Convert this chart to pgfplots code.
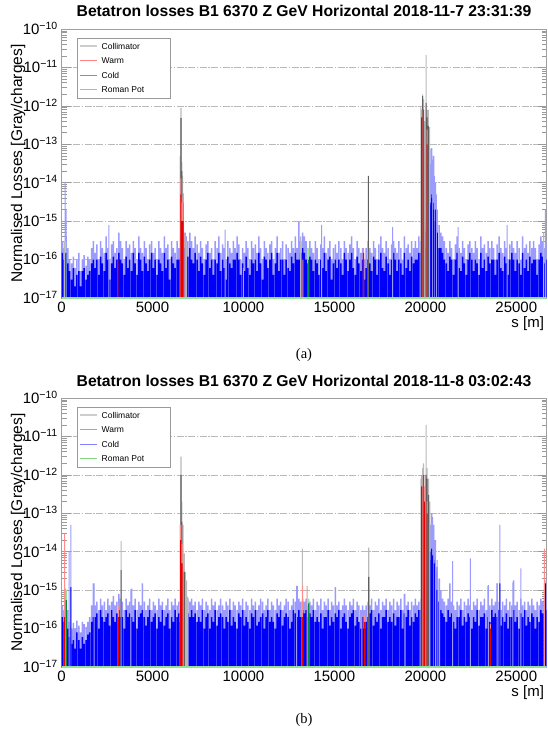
\documentclass[border=0pt]{standalone}
\usepackage{fontspec}
\setmainfont{Liberation Sans}
\newfontfamily\capfont{Liberation Serif}
\usepackage{pgfplots}
\usepackage{pgfplotstable}
\pgfplotsset{compat=1.18}

\definecolor{lb}{RGB}{155,155,255}
\definecolor{db}{RGB}{0,0,250}
\definecolor{lgr}{RGB}{185,185,185}
\definecolor{dgr}{RGB}{95,95,95}
\definecolor{lrd}{RGB}{255,140,140}
\definecolor{drd}{RGB}{235,0,0}
\definecolor{lgn}{RGB}{150,225,150}
\definecolor{dgn}{RGB}{0,140,60}
\definecolor{legc}{RGB}{205,205,205}
\definecolor{legw}{RGB}{255,130,130}
\definecolor{legb}{RGB}{130,130,255}
\definecolor{legg}{RGB}{130,215,130}

\newcommand\legbox{%
  \node[draw=gray!80, fill=white, anchor=north west, inner xsep=0pt, inner ysep=1.2pt,
        font=\fontsize{8.5}{14.4}\selectfont]
    at ([xshift=15.5pt,yshift=-9pt]rel axis cs:0,1)
    {\begin{tabular}{@{\hspace{3pt}}l@{\hspace{4.5pt}}p{68pt}@{}}
      \textcolor{legc}{\rule[2.2pt]{17pt}{1.8pt}} & Collimator\\
      \textcolor{legw}{\rule[2.7pt]{17pt}{0.8pt}} & Warm\\
      \textcolor{legb}{\rule[2.7pt]{17pt}{0.8pt}} & Cold\\
      \textcolor{legg}{\rule[2.7pt]{17pt}{0.8pt}} & Roman Pot
     \end{tabular}};}

% background BLM signal: s, panel a light/dark, panel b light/dark
\pgfplotstableread{
s al ad bl bd
50 3e-16 1.5e-16 4e-16 2e-16
150 2e-16 1e-16 3e-16 1.5e-16
250 4e-16 1.5e-16 6e-16 3e-16
350 2e-16 8e-17 3e-16 1e-16
450 1e-16 5e-17 1.5e-16 6e-17
550 8e-17 3e-17 1e-16 4e-17
650 1.2e-16 6e-17 1.4e-16 5e-17
750 6e-17 2e-17 1e-16 3e-17
850 1e-16 4e-17 1.6e-16 8e-17
950 1.5e-16 5e-17 1.2e-16 5e-17
1050 5e-17 2e-17 8e-17 3e-17
1150 1e-16 5e-17 1.5e-16 6e-17
1250 1.3e-16 6e-17 1.3e-16 4e-17
1350 7e-17 3e-17 1.1e-16 5e-17
1450 1.2e-16 4e-17 1.5e-16 7e-17
1550 1e-16 5e-17 2e-16 8e-17
1650 2e-16 8e-17 4e-16 1.5e-16
1750 3e-16 1e-16 1.5e-15 2e-16
1850 1.5e-16 6e-17 4e-16 2e-16
1950 2.5e-16 1e-16 5e-16 2.5e-16
2050 1e-16 4e-17 3e-16 1e-16
2150 3e-16 1.2e-16 6e-16 3e-16
2250 2e-16 8e-17 4e-16 2e-16
2350 1.5e-16 5e-17 5e-16 1.5e-16
2450 4e-16 1.5e-16 3e-16 2e-16
2550 2e-16 1e-16 6e-16 2.5e-16
2650 1e-16 3e-17 4e-16 1.2e-16
2750 2.5e-16 8e-17 5e-16 3e-16
2850 3e-16 1.2e-16 7e-16 2e-16
2950 1.5e-16 6e-17 4e-16 1.5e-16
3050 2e-16 1e-16 5e-16 2.5e-16
3150 5e-16 1.5e-16 8e-16 3e-16
3250 3e-16 1e-16 6e-16 2e-16
3350 2e-16 8e-17 5e-16 2e-16
3450 1e-16 4e-17 3e-16 1e-16
3550 3e-16 1.2e-16 6e-16 3e-16
3650 2e-16 6e-17 4e-16 2e-16
3750 2.5e-16 1e-16 5e-16 2.5e-16
3850 1.5e-16 5e-17 1.1e-15 2e-16
3950 3e-16 1.5e-16 4e-16 1.5e-16
4050 2e-16 8e-17 6e-16 3e-16
4150 1e-16 4e-17 3e-16 1e-16
4250 4e-16 1.5e-16 5e-16 2e-16
4350 2e-16 1e-16 4e-16 2.5e-16
4450 1.5e-16 5e-17 1.5e-15 3e-16
4550 3e-16 1.2e-16 5e-16 2e-16
4650 2e-16 8e-17 3e-16 1.2e-16
4750 1e-16 5e-17 4e-16 2e-16
4850 2.5e-16 1e-16 6e-16 3e-16
4950 3e-16 1.5e-16 3e-16 1.5e-16
5050 1.5e-16 6e-17 5e-16 2e-16
5150 2e-16 1e-16 4e-16 2.5e-16
5250 1e-16 4e-17 3e-16 1e-16
5350 3e-16 1e-16 6e-16 2e-16
5450 2e-16 8e-17 4e-16 1.5e-16
5550 1.5e-16 5e-17 5e-16 3e-16
5650 4e-16 1.5e-16 3e-16 1.2e-16
5750 2e-16 6e-17 4e-16 2e-16
5850 2.5e-16 1e-16 6e-16 2.5e-16
5950 1e-16 3e-17 3e-16 1e-16
6050 3e-16 1.2e-16 5e-16 2e-16
6150 2e-16 8e-17 4e-16 1.5e-16
6250 1.5e-16 6e-17 6e-16 3e-16
6350 3e-16 1e-16 4e-16 2e-16
6450 2e-16 1e-16 5e-16 2.5e-16
6550 4e-16 2e-16 3e-16 1.5e-16
6650 3e-16 1e-16 5e-16 2e-16
6750 5e-16 2e-16 2e-15 3e-16
6850 4e-16 1.5e-16 1e-15 3e-16
6950 3e-16 1.2e-16 6e-16 2.5e-16
7050 5e-16 2e-16 5e-16 2e-16
7150 3e-16 1e-16 6e-16 3e-16
7250 2e-16 8e-17 4e-16 2e-16
7350 4e-16 1.5e-16 5e-16 2.5e-16
7450 2.5e-16 1e-16 3e-16 1.5e-16
7550 1.5e-16 5e-17 5e-16 2e-16
7650 3e-16 1.2e-16 4e-16 1.5e-16
7750 2e-16 8e-17 6e-16 3e-16
7850 1e-16 4e-17 3e-16 1e-16
7950 2.5e-16 1e-16 5e-16 2e-16
8050 3e-16 1.5e-16 4e-16 2.5e-16
8150 1.5e-16 6e-17 3e-16 1e-16
8250 2e-16 1e-16 6e-16 2e-16
8350 1e-16 4e-17 4e-16 1.5e-16
8450 3e-16 1e-16 5e-16 3e-16
8550 2e-16 8e-17 3e-16 1.2e-16
8650 4e-16 1.5e-16 4e-16 2e-16
8750 1.5e-16 5e-17 6e-16 2.5e-16
8850 2.5e-16 1e-16 4e-16 2e-16
8950 2e-16 6e-17 3e-16 1e-16
9050 1e-16 3e-17 5e-16 2e-16
9150 3e-16 1.2e-16 4e-16 1.5e-16
9250 2e-16 8e-17 6e-16 3e-16
9350 1.5e-16 6e-17 3e-16 1.2e-16
9450 3e-16 1e-16 5e-16 2e-16
9550 2e-16 1e-16 4e-16 1.5e-16
9650 4e-16 1.5e-16 3e-16 1e-16
9750 2.5e-16 1e-16 5e-16 2.5e-16
9850 1e-16 4e-17 4e-16 2e-16
9950 2e-16 8e-17 6e-16 3e-16
10050 1.5e-16 5e-17 3e-16 1.2e-16
10150 3e-16 1.2e-16 5e-16 2e-16
10250 2e-16 6e-17 4e-16 1.5e-16
10350 1e-16 4e-17 3e-16 1e-16
10450 3e-16 1e-16 6e-16 2.5e-16
10550 2e-16 8e-17 4e-16 2e-16
10650 2.5e-16 1e-16 5e-16 3e-16
10750 1.5e-16 5e-17 3e-16 1.2e-16
10850 4e-16 1.5e-16 4e-16 1.5e-16
10950 2e-16 8e-17 6e-16 2e-16
11050 1e-16 3e-17 5e-16 2.5e-16
11150 3e-16 1.2e-16 3e-16 1e-16
11250 2e-16 1e-16 4e-16 2e-16
11350 1.5e-16 6e-17 6e-16 3e-16
11450 2.5e-16 1e-16 3e-16 1.5e-16
11550 3e-16 1.5e-16 5e-16 2e-16
11650 1e-16 4e-17 4e-16 1.5e-16
11750 2e-16 8e-17 3e-16 1e-16
11850 4e-16 1.5e-16 6e-16 2.5e-16
11950 1.5e-16 5e-17 4e-16 2e-16
12050 2e-16 1e-16 5e-16 3e-16
12150 3e-16 1e-16 3e-16 1.2e-16
12250 1e-16 4e-17 4e-16 2e-16
12350 2.5e-16 1e-16 6e-16 2.5e-16
12450 2e-16 6e-17 5e-16 2e-16
12550 1.5e-16 5e-17 3e-16 1e-16
12650 3e-16 1.2e-16 4e-16 1.5e-16
12750 2e-16 8e-17 6e-16 3e-16
12850 4e-16 1.5e-16 5e-16 2.5e-16
12950 2e-16 1e-16 1.3e-15 2e-16
13050 1e-15 1e-16 6e-16 3e-16
13150 3e-16 1.5e-16 5e-16 2e-16
13250 5e-16 2e-16 6e-16 3e-16
13350 4e-16 1.5e-16 5e-16 2.5e-16
13450 3e-16 1e-16 6e-16 3e-16
13550 2e-16 8e-17 4e-16 2e-16
13650 3e-16 1.2e-16 5e-16 2.5e-16
13750 2e-16 1e-16 4e-16 2e-16
13850 1.5e-16 5e-17 6e-16 3e-16
13950 3e-16 1e-16 3e-16 1.5e-16
14050 2e-16 8e-17 5e-16 2e-16
14150 1e-16 4e-17 4e-16 1.5e-16
14250 2.5e-16 1e-16 6e-16 2.5e-16
14350 2e-16 6e-17 3e-16 1e-16
14450 4e-16 1.5e-16 5e-16 2e-16
14550 1.5e-16 5e-17 4e-16 2e-16
14650 2e-16 1e-16 6e-16 3e-16
14750 3e-16 1.2e-16 3e-16 1.2e-16
14850 1e-16 3e-17 5e-16 2e-16
14950 2e-16 8e-17 4e-16 1.5e-16
15050 2.5e-16 1e-16 1.2e-15 2.5e-16
15150 1.5e-16 6e-17 4e-16 2e-16
15250 3e-16 1e-16 5e-16 3e-16
15350 2e-16 8e-17 3e-16 1e-16
15450 1e-16 4e-17 4e-16 2e-16
15550 3e-16 1.5e-16 6e-16 2.5e-16
15650 2e-16 1e-16 4e-16 1.5e-16
15750 1.5e-16 5e-17 3e-16 1e-16
15850 2.5e-16 1e-16 5e-16 2e-16
15950 4e-16 1.5e-16 4e-16 2.5e-16
16050 2e-16 6e-17 6e-16 3e-16
16150 1e-16 4e-17 3e-16 1.2e-16
16250 3e-16 1.2e-16 5e-16 2e-16
16350 2e-16 8e-17 4e-16 1.5e-16
16450 1.5e-16 5e-17 3e-16 1e-16
16550 2e-16 1e-16 4e-16 2e-16
16650 1e-16 3e-17 3e-16 1e-16
16750 2e-16 6e-17 4e-16 1.5e-16
16850 3e-16 1e-16 5e-16 2e-16
16950 2e-16 8e-17 4e-16 2.5e-16
17050 1.5e-16 5e-17 6e-16 3e-16
17150 3e-16 1.2e-16 3e-16 1.2e-16
17250 2e-16 1e-16 5e-16 2e-16
17350 1e-16 4e-17 4e-16 1.5e-16
17450 2.5e-16 1e-16 6e-16 2.5e-16
17550 4e-16 1.5e-16 3e-16 1e-16
17650 2e-16 6e-17 5e-16 2e-16
17750 1.5e-16 5e-17 4e-16 2e-16
17850 3e-16 1.2e-16 6e-16 3e-16
17950 2e-16 8e-17 3e-16 1.5e-16
18050 1e-16 4e-17 5e-16 2e-16
18150 2.5e-16 1e-16 4e-16 1.5e-16
18250 3e-16 1.5e-16 6e-16 2.5e-16
18350 2e-16 1e-16 3e-16 1.2e-16
18450 1.5e-16 5e-17 5e-16 2e-16
18550 3e-16 1e-16 4e-16 2e-16
18650 2e-16 8e-17 6e-16 3e-16
18750 1e-16 4e-17 3e-16 1e-16
18850 4e-16 1.5e-16 8e-16 2.5e-16
18950 2e-16 6e-17 4e-16 2e-16
19050 2.5e-16 1e-16 5e-16 3e-16
19150 1.5e-16 5e-17 3e-16 1.2e-16
19250 3e-16 1.2e-16 5e-16 2e-16
19350 2e-16 8e-17 4e-16 1.5e-16
19450 3e-16 1e-16 6e-16 2.5e-16
19550 2e-16 1e-16 4e-16 2e-16
19650 4e-16 1.5e-16 5e-16 3e-16
19750 3e-16 1.5e-16 6e-16 3e-16
19850 5e-16 2e-16 8e-16 3e-16
19950 6e-16 2e-16 1e-15 4e-16
20050 1e-15 5e-16 2e-15 6e-16
20150 5e-15 1e-15 1e-14 2e-15
20250 3e-14 3e-15 5e-14 5e-15
20350 8e-14 5e-15 1e-13 1e-14
20450 5e-14 3e-15 5e-14 6e-15
20550 1e-14 2e-15 2e-14 3e-15
20650 2e-15 5e-16 4e-15 1e-15
20750 8e-16 2e-16 2e-15 5e-16
20850 5e-16 2e-16 1e-15 3e-16
20950 4e-16 1.5e-16 6e-16 2.5e-16
21050 3e-16 1e-16 5e-16 2e-16
21150 2e-16 8e-17 4e-16 1.5e-16
21250 1.5e-16 5e-17 6e-16 3e-16
21350 3e-16 1.2e-16 1.5e-15 2e-16
21450 2e-16 1e-16 5e-16 2.5e-16
21550 1e-16 4e-17 4e-16 1.5e-16
21650 2.5e-16 1e-16 3e-16 1e-16
21750 4e-16 1.5e-16 5e-16 2e-16
21850 2e-16 6e-17 4e-16 2e-16
21950 1.5e-16 5e-17 6e-16 3e-16
22050 3e-16 1.2e-16 3e-16 1.2e-16
22150 2e-16 8e-17 5e-16 2e-16
22250 1e-16 4e-17 4e-16 1.5e-16
22350 2.5e-16 1e-16 6e-16 2.5e-16
22450 3e-16 1.5e-16 4e-16 2e-16
22550 2e-16 1e-16 3e-16 1e-16
22650 1.5e-16 5e-17 5e-16 2e-16
22750 3e-16 1e-16 4e-16 1.5e-16
22850 2e-16 8e-17 6e-16 3e-16
22950 1e-16 4e-17 3e-16 1.2e-16
23050 4e-16 1.5e-16 5e-16 2e-16
23150 2e-16 6e-17 4e-16 2e-16
23250 2.5e-16 1e-16 6e-16 2.5e-16
23350 1.5e-16 5e-17 3e-16 1e-16
23450 3e-16 1.2e-16 1.3e-15 2e-16
23550 2e-16 8e-17 4e-16 1.5e-16
23650 3e-16 1e-16 6e-16 3e-16
23750 2e-16 1e-16 4e-16 2e-16
23850 1e-16 4e-17 5e-16 2.5e-16
23950 2.5e-16 1e-16 1.5e-15 2e-16
24050 4e-16 1.5e-16 5e-16 3e-16
24150 2e-16 6e-17 3e-16 1.2e-16
24250 1.5e-16 5e-17 5e-16 2e-16
24350 3e-16 1.2e-16 4e-16 1.5e-16
24450 2e-16 8e-17 6e-16 2.5e-16
24550 1e-16 4e-17 3e-16 1e-16
24650 2.5e-16 1e-16 5e-16 2e-16
24750 3e-16 1.5e-16 4e-16 2e-16
24850 2e-16 1e-16 1.8e-15 3e-16
24950 1.5e-16 5e-17 4e-16 1.5e-16
25050 3e-16 1e-16 5e-16 2e-16
25150 2e-16 8e-17 3e-16 1e-16
25250 1e-16 4e-17 6e-16 2.5e-16
25350 4e-16 1.5e-16 4e-16 2e-16
25450 2e-16 6e-17 5e-16 3e-16
25550 2.5e-16 1e-16 3e-16 1.2e-16
25650 1.5e-16 5e-17 5e-16 2e-16
25750 3e-16 1.2e-16 4e-16 1.5e-16
25850 2e-16 8e-17 6e-16 2.5e-16
25950 3e-16 1e-16 4e-16 2e-16
26050 2e-16 1e-16 3e-16 1e-16
26150 1e-16 4e-17 5e-16 2e-16
26250 2.5e-16 1e-16 4e-16 1.5e-16
26350 4e-16 1.5e-16 6e-16 3e-16
26450 3e-16 1.2e-16 5e-16 2.5e-16
26550 2e-16 8e-17 1.5e-15 6e-16
26650 3e-16 1e-16 8e-16 3e-16
}\bg

\begin{document}
\begin{tikzpicture}
\useasboundingbox (0,0) rectangle (547pt,733pt);

% ---------------- panel (a) ----------------
\begin{axis}[
    at={(61.5pt,435pt)}, anchor=south west,
    scale only axis, width=485pt, height=269pt,
    xmin=0, xmax=26659, ymode=log, ymin=1e-17, ymax=1e-10,
    log origin y=infty,
    axis line style={gray!75},
    scaled x ticks=false,
    xtick={0,5000,10000,15000,20000,25000},
    xticklabels={0,5000,10000,15000,20000,25000},
    xtick style={draw=none}, xminorticks=false,
    ytick={1e-17,1e-16,1e-15,1e-14,1e-13,1e-12,1e-11,1e-10},
    yticklabels={10\textsuperscript{−17},10\textsuperscript{−16},10\textsuperscript{−15},10\textsuperscript{−14},10\textsuperscript{−13},10\textsuperscript{−12},10\textsuperscript{−11},10\textsuperscript{−10}},
    tick label style={font=\fontsize{15}{18}\selectfont},
    yticklabel style={anchor=base east, inner sep=0pt, xshift=-3.5pt, yshift=-5.4pt},
    xticklabel style={anchor=base, inner sep=0pt, yshift=-14pt},
    ytick style={gray!80, line width=0.5pt},
    major tick length=9pt, minor tick length=5pt,
    ymajorgrids,
    major grid style={gray!55, line width=0.6pt, dash pattern=on 7pt off 1.5pt on 1.5pt off 1.5pt},
    xlabel={s [m]},
    xlabel style={at={(rel axis cs:1,0)}, anchor=base east, xshift=1pt, yshift=-29pt, font=\fontsize{15}{18}\selectfont},
    ylabel={Normalised Losses [Gray/charges]},
    ylabel style={at={(axis description cs:-0.0897,0.5)}, anchor=center, font=\fontsize{15.5}{18}\selectfont},
    title={Betatron losses B1 6370 Z GeV Horizontal 2018-11-7 23:31:39},
    title style={font=\bfseries\fontsize{15.7}{18}\selectfont, at={(rel axis cs:0.5,1)}, anchor=base, inner sep=0pt, yshift=6pt},
    after end axis/.code={\legbox},
  ]
\addplot[ybar, bar width=1.5pt, bar shift=0pt, draw=none, forget plot, fill=lb] table[x=s, y=al] {\bg};
\addplot[ybar, bar width=1.5pt, bar shift=0pt, draw=none, forget plot, fill=db] table[x=s, y=ad] {\bg};
\addplot[ybar, bar width=1pt, bar shift=0pt, draw=none, forget plot, fill=lb] coordinates {(200,1.05e-14) (260,2e-15) (2600,8e-16) (9000,6e-16) (14300,8e-16) (18200,7e-16) (21800,7e-16) (24500,8e-16) (26600,2e-15) (20300,7.6e-14) (20400,4e-14) (20500,1.5e-14) (20600,5e-15)};
\addplot[ybar, bar width=1pt, bar shift=0pt, draw=none, forget plot, fill=db] coordinates {(200,3e-16) (20250,2.5e-15) (20300,3e-15) (20350,4e-15) (20450,2e-15) (20550,1e-15)};
\addplot[ybar, bar width=1.1pt, bar shift=0pt, draw=none, forget plot, fill=lgr] coordinates {(150,3e-16) (6520,5e-14) (6570,8.8e-13) (6620,3.5e-14) (6660,1.5e-14) (6700,5.3e-15) (6790,4.4e-16) (6880,3e-16) (13150,4e-16) (19750,1e-12) (19850,2e-12) (19900,1.5e-12) (19960,4e-13) (20040,2.1e-11) (20100,8e-13) (20160,7.9e-13) (20230,2.8e-13) (26500,5e-16)};
\addplot[ybar, bar width=1.1pt, bar shift=0pt, draw=none, forget plot, fill=dgr] coordinates {(6570,4.8e-13) (6620,2e-14) (6700,3e-15) (16870,1.5e-14) (19850,1.8e-12) (19900,8e-13) (20040,1.2e-12) (20100,5e-13) (20160,3e-13)};
\addplot[ybar, bar width=1.1pt, bar shift=0pt, draw=none, forget plot, fill=lrd] coordinates {(6560,1.3e-14) (6600,3e-15) (6680,4.3e-15) (6800,5e-16) (10000,6e-17) (13270,1e-16) (16600,2e-16) (19800,8e-13) (20100,2.4e-13)};
\addplot[ybar, bar width=1.1pt, bar shift=0pt, draw=none, forget plot, fill=drd] coordinates {(3100,1e-16) (6560,5e-15) (6620,1e-15) (6680,1e-15) (16600,1.5e-16) (19800,5e-13) (20100,1e-13)};
\addplot[ybar, bar width=1.1pt, bar shift=0pt, draw=none, forget plot, fill=lgn] coordinates {(230,3e-16) (13580,2e-16)};
\addplot[ybar, bar width=1.1pt, bar shift=0pt, draw=none, forget plot, fill=dgn] coordinates {(230,1.5e-16) (13580,1e-16)};
\addplot[forget plot, color=lgn, line width=2pt] coordinates {(0,1e-17) (26659,1e-17)};
\end{axis}

% ---------------- panel (b) ----------------
\begin{axis}[
    at={(61.5pt,66pt)}, anchor=south west,
    scale only axis, width=485pt, height=269pt,
    xmin=0, xmax=26659, ymode=log, ymin=1e-17, ymax=1e-10,
    log origin y=infty,
    axis line style={gray!75},
    scaled x ticks=false,
    xtick={0,5000,10000,15000,20000,25000},
    xticklabels={0,5000,10000,15000,20000,25000},
    xtick style={draw=none}, xminorticks=false,
    ytick={1e-17,1e-16,1e-15,1e-14,1e-13,1e-12,1e-11,1e-10},
    yticklabels={10\textsuperscript{−17},10\textsuperscript{−16},10\textsuperscript{−15},10\textsuperscript{−14},10\textsuperscript{−13},10\textsuperscript{−12},10\textsuperscript{−11},10\textsuperscript{−10}},
    tick label style={font=\fontsize{15}{18}\selectfont},
    yticklabel style={anchor=base east, inner sep=0pt, xshift=-3.5pt, yshift=-5.4pt},
    xticklabel style={anchor=base, inner sep=0pt, yshift=-14pt},
    ytick style={gray!80, line width=0.5pt},
    major tick length=9pt, minor tick length=5pt,
    ymajorgrids,
    major grid style={gray!55, line width=0.6pt, dash pattern=on 7pt off 1.5pt on 1.5pt off 1.5pt},
    xlabel={s [m]},
    xlabel style={at={(rel axis cs:1,0)}, anchor=base east, xshift=1pt, yshift=-29pt, font=\fontsize{15}{18}\selectfont},
    ylabel={Normalised Losses [Gray/charges]},
    ylabel style={at={(axis description cs:-0.0897,0.5)}, anchor=center, font=\fontsize{15.5}{18}\selectfont},
    title={Betatron losses B1 6370 Z GeV Horizontal 2018-11-8 03:02:43},
    title style={font=\bfseries\fontsize{15.7}{18}\selectfont, at={(rel axis cs:0.5,1)}, anchor=base, inner sep=0pt, yshift=6pt},
    after end axis/.code={\legbox},
  ]
\addplot[ybar, bar width=1.5pt, bar shift=0pt, draw=none, forget plot, fill=lb] table[x=s, y=bl] {\bg};
\addplot[ybar, bar width=1.5pt, bar shift=0pt, draw=none, forget plot, fill=db] table[x=s, y=bd] {\bg};
\addplot[ybar, bar width=1pt, bar shift=0pt, draw=none, forget plot, fill=lb] coordinates {(416,1e-14) (513,5e-14) (1800,1.5e-15) (3810,1.05e-15) (12920,1.3e-15) (18870,8e-16) (20250,5e-14) (20350,1e-13) (20400,8e-14) (20450,5e-14) (20550,2e-14) (20650,6e-15) (20780,2e-15) (21495,5.7e-15) (22470,6.7e-15) (23470,1.35e-15) (23950,1.5e-15) (24090,5e-14) (24810,1.6e-15) (25250,3.7e-15) (26620,1.8e-15)};
\addplot[ybar, bar width=1pt, bar shift=0pt, draw=none, forget plot, fill=db] coordinates {(513,1.2e-15) (20250,6e-15) (20300,1e-14) (20350,1.2e-14) (20400,8e-15) (20500,5e-15) (24090,1.5e-15) (26600,1.5e-15)};
\addplot[ybar, bar width=1.1pt, bar shift=0pt, draw=none, forget plot, fill=lgr] coordinates {(150,3e-16) (3275,1.9e-14) (6520,5e-14) (6570,3e-12) (6620,2e-13) (6680,5e-14) (6745,9e-15) (6800,3e-15) (6870,1.8e-15) (6940,6.7e-16) (13240,1.2e-14) (16890,1.27e-14) (19750,8e-13) (19850,1.5e-12) (19900,2e-12) (20000,1e-12) (20040,2e-11) (20100,1.5e-12) (20180,8e-13) (20250,2e-13)};
\addplot[ybar, bar width=1.1pt, bar shift=0pt, draw=none, forget plot, fill=dgr] coordinates {(3275,3.3e-15) (6570,1e-12) (6620,6e-14) (6745,3e-15) (13240,5e-16) (16890,2.2e-15) (19900,1e-12) (20040,1e-12) (20100,8e-13) (20180,3e-13)};
\addplot[ybar, bar width=1.1pt, bar shift=0pt, draw=none, forget plot, fill=lrd] coordinates {(168,3e-14) (225,1.1e-15) (3140,4e-16) (6555,5e-14) (6630,1.6e-14) (13250,1.3e-15) (13500,1.3e-15) (16510,2.2e-16) (16662,2.2e-16) (19800,1e-12) (19950,5e-13) (20100,2e-13) (23570,1.3e-16) (26540,1.2e-14)};
\addplot[ybar, bar width=1.1pt, bar shift=0pt, draw=none, forget plot, fill=drd] coordinates {(168,2e-16) (3140,2e-16) (6555,2e-14) (6630,5e-15) (13250,2e-16) (16662,1.5e-16) (19800,5e-13) (19950,2e-13) (20100,1e-13) (23570,1e-16)};
\addplot[ybar, bar width=1.1pt, bar shift=0pt, draw=none, forget plot, fill=lgn] coordinates {(263,1e-15) (13590,6e-16)};
\addplot[ybar, bar width=1.1pt, bar shift=0pt, draw=none, forget plot, fill=dgn] coordinates {(263,5.5e-16) (13590,4.5e-16)};
\addplot[forget plot, color=lgn, line width=2pt] coordinates {(0,1e-17) (26659,1e-17)};
\end{axis}

\node[font=\capfont\fontsize{14.5}{17}\selectfont] at (304pt,378pt) {(a)};
\node[font=\capfont\fontsize{14.5}{17}\selectfont] at (304pt,13pt) {(b)};
\end{tikzpicture}
\end{document}
